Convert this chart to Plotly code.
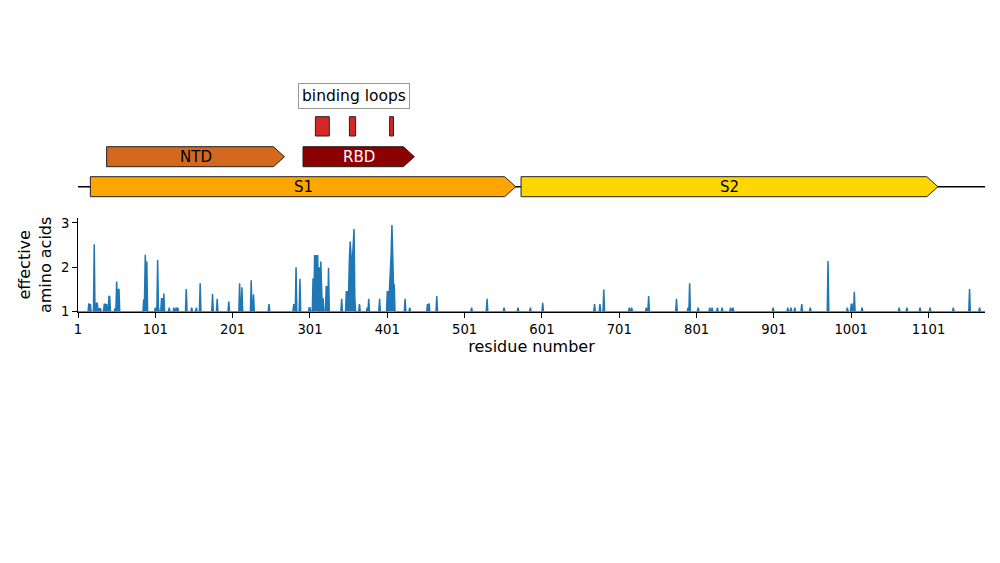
import numpy as np
import plotly.graph_objects as go

# ---------------- data ----------------
n_sites = 1174

peak_residues = [
    15, 17, 22, 25, 26, 28, 30, 35, 36, 38, 41, 42, 49, 51, 53, 54,
    86, 87, 88, 89, 90, 101, 104, 105, 109, 110, 112, 119, 125, 128, 130,
    141, 148, 154, 159, 175, 181, 196, 210, 213, 225, 228, 248,
    280, 283, 288, 300, 301, 305, 307, 308, 309, 310, 311, 313, 315, 316, 318,
    322, 323, 325,
    342, 348, 349, 350, 351, 352, 353, 354, 355, 356, 357, 358, 359,
    365, 375, 377, 391, 401, 402, 403, 404, 405, 406, 407, 408, 409, 410,
    424, 430, 453, 455, 465,
    510, 530, 552, 570, 586, 602,
    669, 676, 681, 714, 717, 736, 739, 775, 790, 792, 803, 818, 821, 828,
    834, 845, 848, 900, 919, 923, 928, 937, 948, 971,
    996, 1001, 1002, 1005, 1015, 1063, 1073, 1090, 1103, 1133, 1154, 1167,
]
peak_values = [
    1.19, 1.17, 2.52, 1.19, 1.19, 1.08, 1.08, 1.17, 1.17, 1.17, 1.34, 1.34, 1.08, 1.68, 1.50, 1.50,
    1.26, 1.28, 2.28, 1.60, 2.13, 1.09, 2.17, 1.10, 1.29, 1.29, 1.41, 1.09, 1.09, 1.09, 1.09,
    1.51, 1.09, 1.09, 1.64, 1.40, 1.29, 1.23, 1.64, 1.55, 1.71, 1.39, 1.17,
    1.17, 2.00, 1.74, 1.09, 1.09, 1.75, 2.26, 2.26, 1.80, 2.26, 2.26, 2.00,
    2.13, 1.60, 1.30,
    1.56, 1.56, 1.99,
    1.29, 1.45, 1.45, 1.45, 1.45, 2.20, 2.58, 2.30, 2.00, 2.20, 2.60, 2.86, 1.30,
    1.17, 1.09, 1.29, 1.29, 1.45, 1.45, 1.20, 1.50, 1.98, 2.30, 2.95, 2.00, 1.60, 1.60,
    1.29, 1.09, 1.17, 1.19, 1.35,
    1.09, 1.29, 1.09, 1.09, 1.09, 1.20,
    1.17, 1.17, 1.50, 1.09, 1.09, 1.09, 1.35, 1.29, 1.09, 1.64, 1.09, 1.09, 1.09, 1.09,
    1.09, 1.09, 1.09, 1.09, 1.09, 1.09, 1.09, 1.17, 1.09, 2.14,
    1.09, 1.17, 1.17, 1.45, 1.09, 1.09, 1.09, 1.09, 1.09, 1.09, 1.51, 1.09,
]

residues = np.arange(1, n_sites + 1)
eff_aa = np.ones(n_sites)
eff_aa[np.array(peak_residues) - 1] = peak_values

# domains (start residue, end residue)
main_domains = ["S1", "S2"]
main_starts = [17, 574]
main_ends = [567, 1113]
main_colors = ["#FFA500", "#FFD700"]

sub_domains = ["NTD", "RBD"]
sub_starts = [38, 292]
sub_ends = [268, 436]
sub_colors = ["#D2691E", "#8B0000"]
sub_text_colors = ["black", "white"]

loop_starts = [308, 352, 404]
loop_ends = [326, 360, 409]
loop_label = "binding loops"

x_tick_vals = [1, 101, 201, 301, 401, 501, 601, 701, 801, 901, 1001, 1101]
x_tick_text = [str(v) for v in x_tick_vals]
y_tick_vals = [1, 2, 3]

# ---------------- figure ----------------
blue = "#1f77b4"
fig = go.Figure()
fig.add_trace(go.Scatter(
    x=residues, y=eff_aa, mode="lines",
    line=dict(color=blue, width=1.5),
    fill="tozeroy", fillcolor=blue,
    hoverinfo="x+y", showlegend=False,
))

shapes = []
annotations = []
head = 14.2  # arrow head length in residues

# annotation panel rows (yaxis2 units)
row_main = (3.3, 23.3)
row_sub = (33.3, 53.3)
row_loop = (64.0, 83.3)
label_y = 104


def arrow_path(x0, x1, y0, y1):
    xb = x1 - head
    ym = (y0 + y1) / 2
    return f"M {x0},{y0} L {xb},{y0} L {x1},{ym} L {xb},{y1} L {x0},{y1} Z"


# backbone line
shapes.append(dict(type="line", xref="x", yref="y2",
                   x0=residues[0], x1=residues[-1],
                   y0=sum(row_main) / 2, y1=sum(row_main) / 2,
                   line=dict(color="black", width=1.5), layer="below"))

for name, s, e, c in zip(main_domains, main_starts, main_ends, main_colors):
    shapes.append(dict(type="path", xref="x", yref="y2",
                       path=arrow_path(s, e, *row_main),
                       fillcolor=c, line=dict(color="#222222", width=1)))
    annotations.append(dict(x=(s + e) / 2, y=sum(row_main) / 2, xref="x", yref="y2",
                            text=name, showarrow=False,
                            font=dict(size=15, color="black")))

for name, s, e, c, tc in zip(sub_domains, sub_starts, sub_ends, sub_colors, sub_text_colors):
    shapes.append(dict(type="path", xref="x", yref="y2",
                       path=arrow_path(s, e, *row_sub),
                       fillcolor=c, line=dict(color="#222222", width=1)))
    annotations.append(dict(x=(s + e) / 2, y=sum(row_sub) / 2, xref="x", yref="y2",
                            text=name, showarrow=False,
                            font=dict(size=15, color=tc)))

for s, e in zip(loop_starts, loop_ends):
    shapes.append(dict(type="rect", xref="x", yref="y2",
                       x0=s, x1=e, y0=row_loop[0], y1=row_loop[1],
                       fillcolor="#D62728", line=dict(color="#222222", width=1)))

annotations.append(dict(x=(loop_starts[0] + loop_ends[-1]) / 2, y=label_y,
                        xref="x", yref="y2", text=loop_label, showarrow=False,
                        font=dict(size=15.5, color="black"),
                        bordercolor="#999999", borderwidth=1, borderpad=3,
                        bgcolor="white"))

# page has an 8px body margin; figure is sized to fit the window
W, H, OFF = 992, 555, 8.0


def dom(py_bottom, py_top):
    return [1 - (py_bottom - OFF) / H, 1 - (py_top - OFF) / H]


fig.update_layout(
    width=W, height=H,
    paper_bgcolor="white", plot_bgcolor="white",
    margin=dict(l=70, r=15, t=0, b=0, autoexpand=False),
    font=dict(family="DejaVu Sans", color="black"),
    shapes=shapes, annotations=annotations,
    xaxis=dict(range=[1, n_sites], tickvals=x_tick_vals, ticktext=x_tick_text,
               showgrid=False, zeroline=False, showline=True, linecolor="black",
               linewidth=1, ticks="outside", ticklen=5, tickcolor="black",
               tickfont=dict(size=13.2), automargin=False,
               title=dict(text="residue number", font=dict(size=16), standoff=2),
               anchor="y"),
    yaxis=dict(domain=dom(311.7, 218), range=[1, 3.11],
               tickvals=y_tick_vals, showgrid=False, zeroline=False,
               showline=True, linecolor="black", linewidth=1,
               ticks="outside", ticklen=5, tickcolor="black",
               tickfont=dict(size=13.2), automargin=False,
               title=dict(text="effective<br>amino acids", font=dict(size=16), standoff=5)),
    yaxis2=dict(domain=dom(200, 80), range=[0, 120],
                visible=False, anchor="x"),
)

fig.write_html("out.html")
